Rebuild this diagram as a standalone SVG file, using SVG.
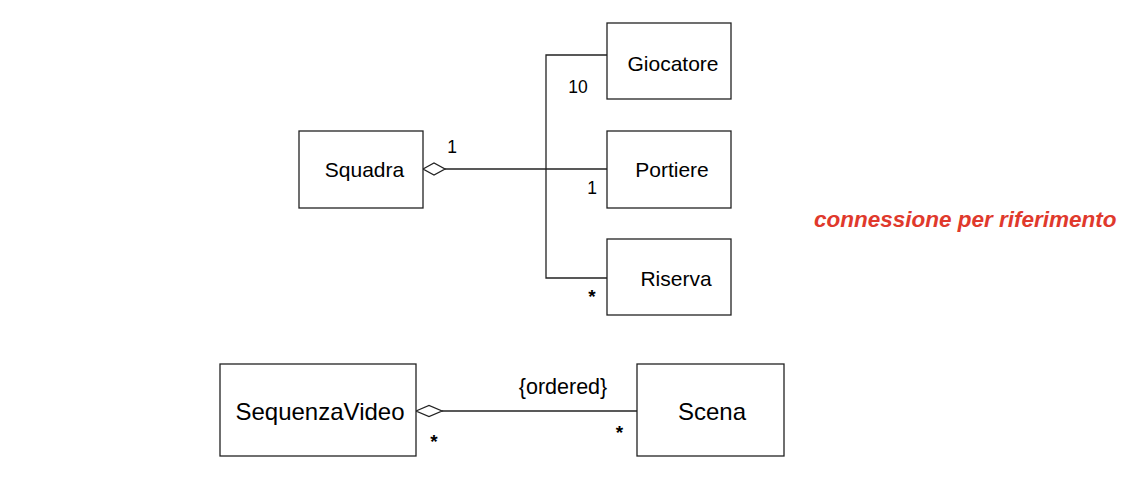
<svg xmlns="http://www.w3.org/2000/svg" width="1148" height="500" viewBox="0 0 1148 500">
<style>
.box{fill:#fff;stroke:#222;stroke-width:1.3}
.conn{fill:none;stroke:#222;stroke-width:1.3}
.dia{fill:#fff;stroke:#222;stroke-width:1.3}
text{font-family:"Liberation Sans",Arial,sans-serif;fill:#000}
.n{font-size:21px;text-anchor:middle}
.nb{font-size:24px;text-anchor:middle}
.m{font-size:17.5px;text-anchor:middle}
.s{font-size:19px;text-anchor:middle;font-weight:bold}
.note{font-size:22.5px;font-weight:bold;font-style:italic;fill:#e0392c}
</style>
<rect width="1148" height="500" fill="#fff"/>
<g id="connectors">
<path class="conn" d="M445,169 H607"/>
<path class="conn" d="M607,55 H546 V278 H607"/>
<path class="dia" d="M423,169 L434,163 L445,169 L434,175 Z"/>
<path class="conn" d="M442,411 H637"/>
<path class="dia" d="M416,411 L429,405.5 L442,411 L429,416.5 Z"/>
<text class="m" x="452" y="152.5">1</text>
<text class="m" x="578" y="92.5">10</text>
<text class="m" x="592" y="193.5">1</text>
<text class="s" x="592" y="303">*</text>
<text style="font-size:21.5px;text-anchor:middle" x="563" y="394">{ordered}</text>
<text class="s" x="434" y="447.5">*</text>
<text class="s" x="619.5" y="438.5">*</text>
</g>
<g id="squadra">
<rect class="box" x="299" y="131" width="124" height="77"/>
<text class="n" x="364.5" y="177">Squadra</text>
</g>
<g id="giocatore">
<rect class="box" x="607" y="23" width="124" height="76"/>
<text class="n" x="673" y="71">Giocatore</text>
</g>
<g id="portiere">
<rect class="box" x="607" y="131" width="124" height="77"/>
<text class="n" x="672" y="177">Portiere</text>
</g>
<g id="riserva">
<rect class="box" x="607" y="239" width="124" height="76"/>
<text class="n" x="676" y="286">Riserva</text>
</g>
<g id="sequenzavideo">
<rect class="box" x="220" y="364" width="196" height="92"/>
<text class="nb" x="320" y="420">SequenzaVideo</text>
</g>
<g id="scena">
<rect class="box" x="637" y="364" width="147" height="92"/>
<text class="nb" x="712" y="420">Scena</text>
</g>
<g id="note">
<text class="note" x="814" y="227">connessione per riferimento</text>
</g>
</svg>
